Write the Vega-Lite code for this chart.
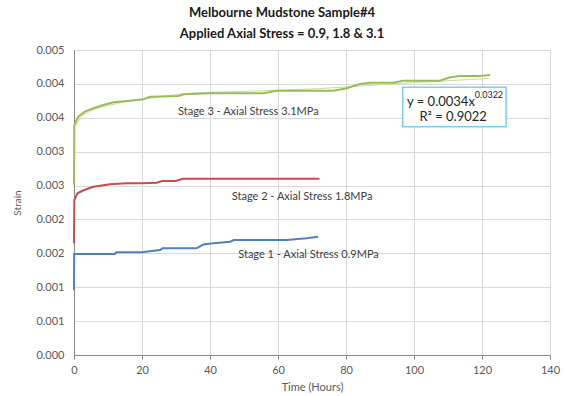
{
  "$schema": "https://vega.github.io/schema/vega-lite/v6.json",
  "width": 476,
  "height": 305,
  "autosize": {"type": "none"},
  "padding": {"left": 74, "top": 50, "right": 14, "bottom": 41},
  "background": "white",
  "config": {
    "font": "Lato",
    "view": {"stroke": null},
    "axis": {"gridColor": "#d9d9d9", "gridWidth": 1, "domainColor": "#868686", "labelColor": "#595959", "titleColor": "#595959", "labelFont": "Lato", "titleFont": "Lato", "titleFontWeight": "normal"}
  },
  "title": {
    "text": ["Melbourne Mudstone Sample#4", "Applied Axial Stress = 0.9, 1.8 & 3.1"],
    "font": "Lato",
    "fontSize": 13,
    "fontWeight": "bold",
    "color": "#1a1a1a",
    "anchor": "middle",
    "frame": "group",
    "dx": -30,
    "offset": 3,
    "lineHeight": 21
  },
  "datasets": {
    "series": [
      {"stage": "Stage 1", "time": 0, "strain": 0.00096},
      {"stage": "Stage 1", "time": 0.05, "strain": 0.00149},
      {"stage": "Stage 1", "time": 12, "strain": 0.00149},
      {"stage": "Stage 1", "time": 12.4, "strain": 0.001515},
      {"stage": "Stage 1", "time": 19.9, "strain": 0.001515},
      {"stage": "Stage 1", "time": 25.3, "strain": 0.001549},
      {"stage": "Stage 1", "time": 26, "strain": 0.001574},
      {"stage": "Stage 1", "time": 36, "strain": 0.001574},
      {"stage": "Stage 1", "time": 38, "strain": 0.00163},
      {"stage": "Stage 1", "time": 41, "strain": 0.001648},
      {"stage": "Stage 1", "time": 46, "strain": 0.001672},
      {"stage": "Stage 1", "time": 47, "strain": 0.001697},
      {"stage": "Stage 1", "time": 62.5, "strain": 0.001697},
      {"stage": "Stage 1", "time": 68.4, "strain": 0.001722},
      {"stage": "Stage 1", "time": 71.8, "strain": 0.001745},
      {"stage": "Stage 2", "time": 0, "strain": 0.00165},
      {"stage": "Stage 2", "time": 0.1, "strain": 0.002287},
      {"stage": "Stage 2", "time": 1, "strain": 0.002386},
      {"stage": "Stage 2", "time": 3, "strain": 0.002434},
      {"stage": "Stage 2", "time": 5.7, "strain": 0.002483},
      {"stage": "Stage 2", "time": 10.6, "strain": 0.002519},
      {"stage": "Stage 2", "time": 15.5, "strain": 0.002533},
      {"stage": "Stage 2", "time": 20, "strain": 0.002533},
      {"stage": "Stage 2", "time": 24.3, "strain": 0.002542},
      {"stage": "Stage 2", "time": 26, "strain": 0.002567},
      {"stage": "Stage 2", "time": 30, "strain": 0.002567},
      {"stage": "Stage 2", "time": 32, "strain": 0.002601},
      {"stage": "Stage 2", "time": 72.2, "strain": 0.002601},
      {"stage": "Stage 3", "time": 0, "strain": 0.00251},
      {"stage": "Stage 3", "time": 0.1, "strain": 0.003393},
      {"stage": "Stage 3", "time": 1.3, "strain": 0.003516},
      {"stage": "Stage 3", "time": 3.2, "strain": 0.00359},
      {"stage": "Stage 3", "time": 5.7, "strain": 0.00364},
      {"stage": "Stage 3", "time": 8.6, "strain": 0.003689},
      {"stage": "Stage 3", "time": 11.6, "strain": 0.003728},
      {"stage": "Stage 3", "time": 15.5, "strain": 0.003748},
      {"stage": "Stage 3", "time": 20.4, "strain": 0.003773},
      {"stage": "Stage 3", "time": 22.4, "strain": 0.003811},
      {"stage": "Stage 3", "time": 30.7, "strain": 0.003821},
      {"stage": "Stage 3", "time": 32.2, "strain": 0.003846},
      {"stage": "Stage 3", "time": 40, "strain": 0.003861},
      {"stage": "Stage 3", "time": 55.7, "strain": 0.003861},
      {"stage": "Stage 3", "time": 59.6, "strain": 0.0039},
      {"stage": "Stage 3", "time": 76.3, "strain": 0.0039},
      {"stage": "Stage 3", "time": 80.2, "strain": 0.003935},
      {"stage": "Stage 3", "time": 84.1, "strain": 0.003998},
      {"stage": "Stage 3", "time": 87.1, "strain": 0.004018},
      {"stage": "Stage 3", "time": 93.9, "strain": 0.004018},
      {"stage": "Stage 3", "time": 96.8, "strain": 0.004047},
      {"stage": "Stage 3", "time": 107.6, "strain": 0.004047},
      {"stage": "Stage 3", "time": 110.6, "strain": 0.004097},
      {"stage": "Stage 3", "time": 113.5, "strain": 0.004116},
      {"stage": "Stage 3", "time": 119.4, "strain": 0.004116},
      {"stage": "Stage 3", "time": 122.4, "strain": 0.004131}
    ],
    "trend": [
      {"time": 0.5, "strain": 0.00338},
      {"time": 2, "strain": 0.0035},
      {"time": 5, "strain": 0.0036},
      {"time": 10, "strain": 0.00368},
      {"time": 20, "strain": 0.00377},
      {"time": 35, "strain": 0.003865},
      {"time": 50, "strain": 0.00389},
      {"time": 72, "strain": 0.00393},
      {"time": 100, "strain": 0.00402},
      {"time": 122, "strain": 0.00408}
    ],
    "labels": [
      {"time": 30.6, "strain": 0.003585, "text": "Stage 3 - Axial Stress 3.1MPa"},
      {"time": 46.4, "strain": 0.002336, "text": "Stage 2 - Axial Stress 1.8MPa"},
      {"time": 48.3, "strain": 0.001475, "text": "Stage 1 - Axial Stress 0.9MPa"}
    ],
    "box": [
      {"time": 96.7, "t2": 127.1, "strain": 0.003368, "s2": 0.00395}
    ],
    "eq": [
      {"time": 117.9, "strain": 0.003737, "text": "y = 0.0034x"}
    ],
    "sup": [
      {"time": 117.9, "strain": 0.003841, "text": "0.0322"}
    ],
    "r2": [
      {"time": 111.5, "strain": 0.003507, "text": "R² = 0.9022"}
    ]
  },
  "encoding": {
    "x": {"field": "time", "type": "quantitative", "scale": {"domain": [0, 140], "nice": false},
      "axis": {"values": [0, 20, 40, 60, 80, 100, 120, 140], "title": "Time (Hours)", "titleFontSize": 11, "titlePadding": 6, "labelFontSize": 11, "labelPadding": 5, "ticks": true, "tickSize": 4, "tickColor": "#868686", "grid": true, "labelFlush": false}},
    "y": {"field": "strain", "type": "quantitative", "scale": {"domain": [0, 0.0045], "nice": false, "zero": true},
      "axis": {"values": [0, 0.0005, 0.001, 0.0015, 0.002, 0.0025, 0.003, 0.0035, 0.004, 0.0045], "labelExpr": "format(round(datum.value*1000 + 0.000001)/1000, '.3f')", "labelOverlap": false, "title": "Strain", "titleFontSize": 10, "titlePadding": 13, "labelFontSize": 11, "labelPadding": 10, "ticks": false, "grid": true}}
  },
  "layer": [
    {
      "data": {"name": "trend"},
      "mark": {"type": "line", "color": "#c9dca0", "strokeWidth": 1, "interpolate": "monotone"}
    },
    {
      "data": {"name": "series"},
      "mark": {"type": "line", "strokeWidth": 2},
      "encoding": {
        "color": {"field": "stage", "type": "nominal", "scale": {"domain": ["Stage 1", "Stage 2", "Stage 3"], "range": ["#4f81bd", "#c0504d", "#9bbb59"]}, "legend": null}
      }
    },
    {
      "data": {"name": "labels"},
      "mark": {"type": "text", "align": "left", "baseline": "middle", "fontSize": 11, "font": "Lato", "color": "#404040"},
      "encoding": {
        "text": {"field": "text"}
      }
    },
    {
      "data": {"name": "box"},
      "mark": {"type": "rect", "fill": "white", "stroke": "#7fcfe8", "strokeWidth": 1.5},
      "encoding": {
        "x2": {"field": "t2"},
        "y2": {"field": "s2"}
      }
    },
    {
      "data": {"name": "eq"},
      "mark": {"type": "text", "align": "right", "baseline": "middle", "fontSize": 13, "font": "Lato", "color": "#262626"},
      "encoding": {
        "text": {"field": "text"}
      }
    },
    {
      "data": {"name": "sup"},
      "mark": {"type": "text", "align": "left", "baseline": "middle", "fontSize": 9, "font": "Lato", "color": "#262626"},
      "encoding": {
        "text": {"field": "text"}
      }
    },
    {
      "data": {"name": "r2"},
      "mark": {"type": "text", "align": "center", "baseline": "middle", "fontSize": 13, "font": "Lato", "color": "#262626"},
      "encoding": {
        "text": {"field": "text"}
      }
    }
  ]
}
